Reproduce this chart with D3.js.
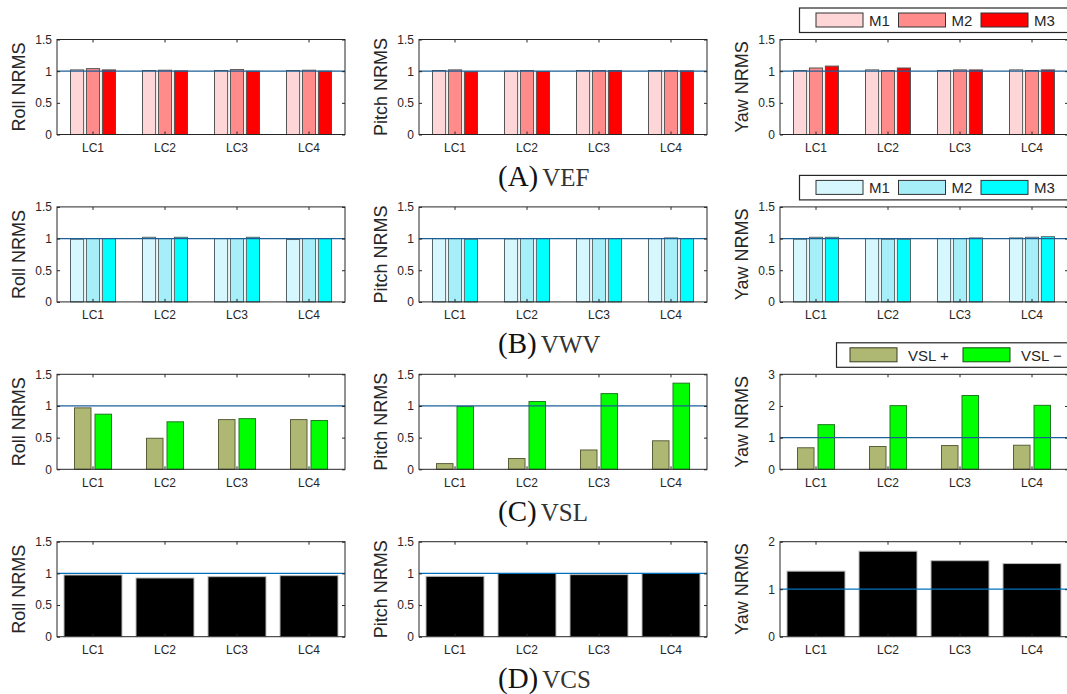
<!DOCTYPE html>
<html lang="en">
<head>
<meta charset="utf-8">
<title>NRMS</title>
<script src="https://d3js.org/d3.v7.min.js"></script>
<style>
  body { margin: 0; background: #fff; }
  svg text { font-family: "Liberation Sans", Arial, sans-serif; }
</style>
</head>
<body>
<div id="viz"></div>
<script>
// categories and series
const categories = ["LC1", "LC2", "LC3", "LC4"];
const methods = ["M1", "M2", "M3"];
const vslSeries = ["VSL +", "VSL \u2212"];
const vcsSeries = ["VCS"];

// (A) VEF  - one inner array per LC: [M1, M2, M3]
const vefRoll  = [[1.02, 1.04, 1.02], [1.01, 1.015, 1.005], [1.01, 1.025, 1.0], [1.01, 1.015, 1.0]];
const vefPitch = [[1.01, 1.02, 0.99], [1.0, 1.01, 0.995], [1.01, 1.01, 1.01], [1.01, 1.01, 1.005]];
const vefYaw   = [[1.01, 1.05, 1.08], [1.02, 1.01, 1.05], [1.01, 1.02, 1.02], [1.02, 1.01, 1.02]];

// (B) VWV
const vwvRoll  = [[0.99, 1.0, 1.0], [1.02, 1.0, 1.02], [1.0, 1.0, 1.02], [0.985, 1.0, 1.0]];
const vwvPitch = [[1.0, 1.0, 0.99], [0.995, 1.0, 1.0], [1.0, 1.0, 1.0], [1.0, 1.01, 1.0]];
const vwvYaw   = [[0.99, 1.02, 1.02], [1.0, 0.99, 0.99], [1.0, 1.0, 1.01], [1.01, 1.02, 1.03]];

// (C) VSL - [VSL +, VSL -]
const vslRoll  = [[0.97, 0.87], [0.49, 0.75], [0.785, 0.80], [0.785, 0.77]];
const vslPitch = [[0.09, 0.99], [0.17, 1.07], [0.305, 1.195], [0.45, 1.36]];
const vslYaw   = [[0.68, 1.41], [0.72, 2.01], [0.75, 2.33], [0.76, 2.02]];

// (D) VCS
const vcsRoll  = [[0.974], [0.927], [0.948], [0.964]];
const vcsPitch = [[0.953], [1.0], [0.98], [1.0]];
const vcsYaw   = [[1.38], [1.80], [1.60], [1.54]];

// y ticks
const ticks15 = [0, 0.5, 1, 1.5];
const ticks3 = [0, 1, 2, 3];
const ticks2 = [0, 1, 2];

const rowTitles = [["(A)", "VEF"], ["(B)", "VWV"], ["(C)", "VSL"], ["(D)", "VCS"]];
const axisNames = ["Roll NRMS", "Pitch NRMS", "Yaw NRMS"];

const redColors = ["#ffd6d8", "#ff8b8b", "#ff0000"];
const cyanColors = ["#d6f7fd", "#a6eff8", "#00ffff"];
const vslColors = ["#afb872", "#00ff00"];
const vcsColors = ["#000000"];

const rows = [
  { series: methods, colors: redColors, edge: "#555", data: [vefRoll, vefPitch, vefYaw],
    ticks: [ticks15, ticks15, ticks15], group: 45, gap: 3, legend: true },
  { series: methods, colors: cyanColors, edge: "#55666a", data: [vwvRoll, vwvPitch, vwvYaw],
    ticks: [ticks15, ticks15, ticks15], group: 45, gap: 3, legend: true },
  { series: vslSeries, colors: vslColors, edge: null, data: [vslRoll, vslPitch, vslYaw],
    ticks: [ticks15, ticks15, ticks3], group: 37, gap: 4, legend: true },
  { series: vcsSeries, colors: vcsColors, edge: "#bbb", data: [vcsRoll, vcsPitch, vcsYaw],
    ticks: [ticks15, ticks15, ticks2], group: 58, gap: 0, legend: false }
];

const W = 1067, H = 694;
const colLeft = [57, 419, 780];
const pw = 288, ph = 95;
const rowTop = i => 39.5 + 167.4 * i;
const refColor = ["#1b5f97", "#1b5f97", "#1b5f97", "#0072bd"];

const svg = d3.select("#viz").append("svg")
  .attr("width", W).attr("height", H);

rows.forEach((row, ri) => {
  const top = rowTop(ri);

  row.data.forEach((vals, ci) => {
    const yt = row.ticks[ci];
    const g = svg.append("g").attr("transform", `translate(${colLeft[ci]},${top})`);

    const x = d3.scaleBand().domain(categories).range([0, pw]);
    const y = d3.scaleLinear().domain([0, d3.max(yt)]).range([ph, 0]);
    const n = row.series.length;
    const inner = d3.scaleBand().domain(row.series)
      .range([-row.group / 2, row.group / 2])
      .paddingInner(n > 1 ? row.gap / (row.group / n + row.gap * (n - 1) / n) : 0)
      .paddingOuter(0);

    // bars
    categories.forEach((c, k) => {
      row.series.forEach((s, j) => {
        const v = vals[k][j];
        let edge = row.edge;
        if (ri === 2) edge = j === 0 ? "#5b5f3a" : "#1f7a1f";
        g.append("rect")
          .attr("x", x(c) + x.bandwidth() / 2 + inner(s))
          .attr("y", y(v))
          .attr("width", inner.bandwidth())
          .attr("height", y(0) - y(v))
          .attr("fill", row.colors[j])
          .attr("stroke", edge)
          .attr("stroke-width", 1);
      });
    });

    // reference line at 1
    g.append("line")
      .attr("x1", 0).attr("x2", pw)
      .attr("y1", y(1)).attr("y2", y(1))
      .attr("stroke", refColor[ri]).attr("stroke-width", 1.3);

    // axes with inward ticks
    const fmt = d => d3.format("")(d);
    const ax = g.append("g").attr("transform", `translate(0,${ph})`)
      .call(d3.axisBottom(x).tickSize(-3).tickPadding(9));
    const ay = g.append("g")
      .call(d3.axisLeft(y).tickValues(yt).tickFormat(fmt).tickSize(-3).tickPadding(5));
    const at = g.append("g")
      .call(d3.axisTop(x).tickSize(-3).tickFormat(""));
    const ar = g.append("g").attr("transform", `translate(${pw},0)`)
      .call(d3.axisRight(y).tickValues(yt).tickSize(-3).tickFormat(""));
    [ax, ay, at, ar].forEach(a => {
      a.select(".domain").remove();
      a.selectAll(".tick line").attr("stroke", "#262626");
      a.selectAll(".tick text").attr("fill", "#262626").style("font-size", "12px");
    });

    g.append("rect")
      .attr("x", 0).attr("y", 0).attr("width", pw).attr("height", ph)
      .attr("fill", "none").attr("stroke", "#262626").attr("stroke-width", 1);

    g.append("text")
      .attr("transform", `translate(-38,${ph / 2}) rotate(-90)`)
      .attr("text-anchor", "middle")
      .attr("dy", "0.35em")
      .attr("fill", "#262626")
      .style("font-size", "18px")
      .text(axisNames[ci]);
  });

  // legend (top right)
  if (row.legend) {
    const isVsl = row.series.length === 2;
    const lx = isVsl ? 836.5 : 799.5;
    const ly = top - 31.5;
    const lg = svg.append("g").attr("transform", `translate(${lx},${ly})`);
    lg.append("rect")
      .attr("x", 0).attr("y", 0).attr("width", W - lx + 10).attr("height", 24.5)
      .attr("fill", "#fff").attr("stroke", "#262626").attr("stroke-width", 1.2);
    const stepL = isVsl ? 113 : 82.5;
    const start = isVsl ? 13.5 : 16.5;
    const labelDx = isVsl ? 58 : 53;
    row.series.forEach((s, j) => {
      const sx = start + j * stepL;
      const edge = isVsl ? (j === 0 ? "#3a3d22" : "#134d13") : "#333";
      lg.append("rect")
        .attr("x", sx).attr("y", 5).attr("width", 47).attr("height", 14)
        .attr("fill", row.colors[j]).attr("stroke", edge).attr("stroke-width", 1);
      lg.append("text")
        .attr("x", sx + labelDx).attr("y", 12.5).attr("dy", "0.35em")
        .attr("fill", "#262626").style("font-size", "15px")
        .text(s);
    });
  }

  // row title
  const t = svg.append("text")
    .attr("x", 498).attr("y", top + 146.5)
    .attr("fill", "#111");
  t.append("tspan").style("font-size", "29px").style("font-family", "'Liberation Serif', serif").text(rowTitles[ri][0]);
  t.append("tspan").attr("dx", 4).style("font-size", "25px").style("font-family", "'Liberation Serif', serif").attr("fill", "#333").text(rowTitles[ri][1]);
});
</script>
</body>
</html>
